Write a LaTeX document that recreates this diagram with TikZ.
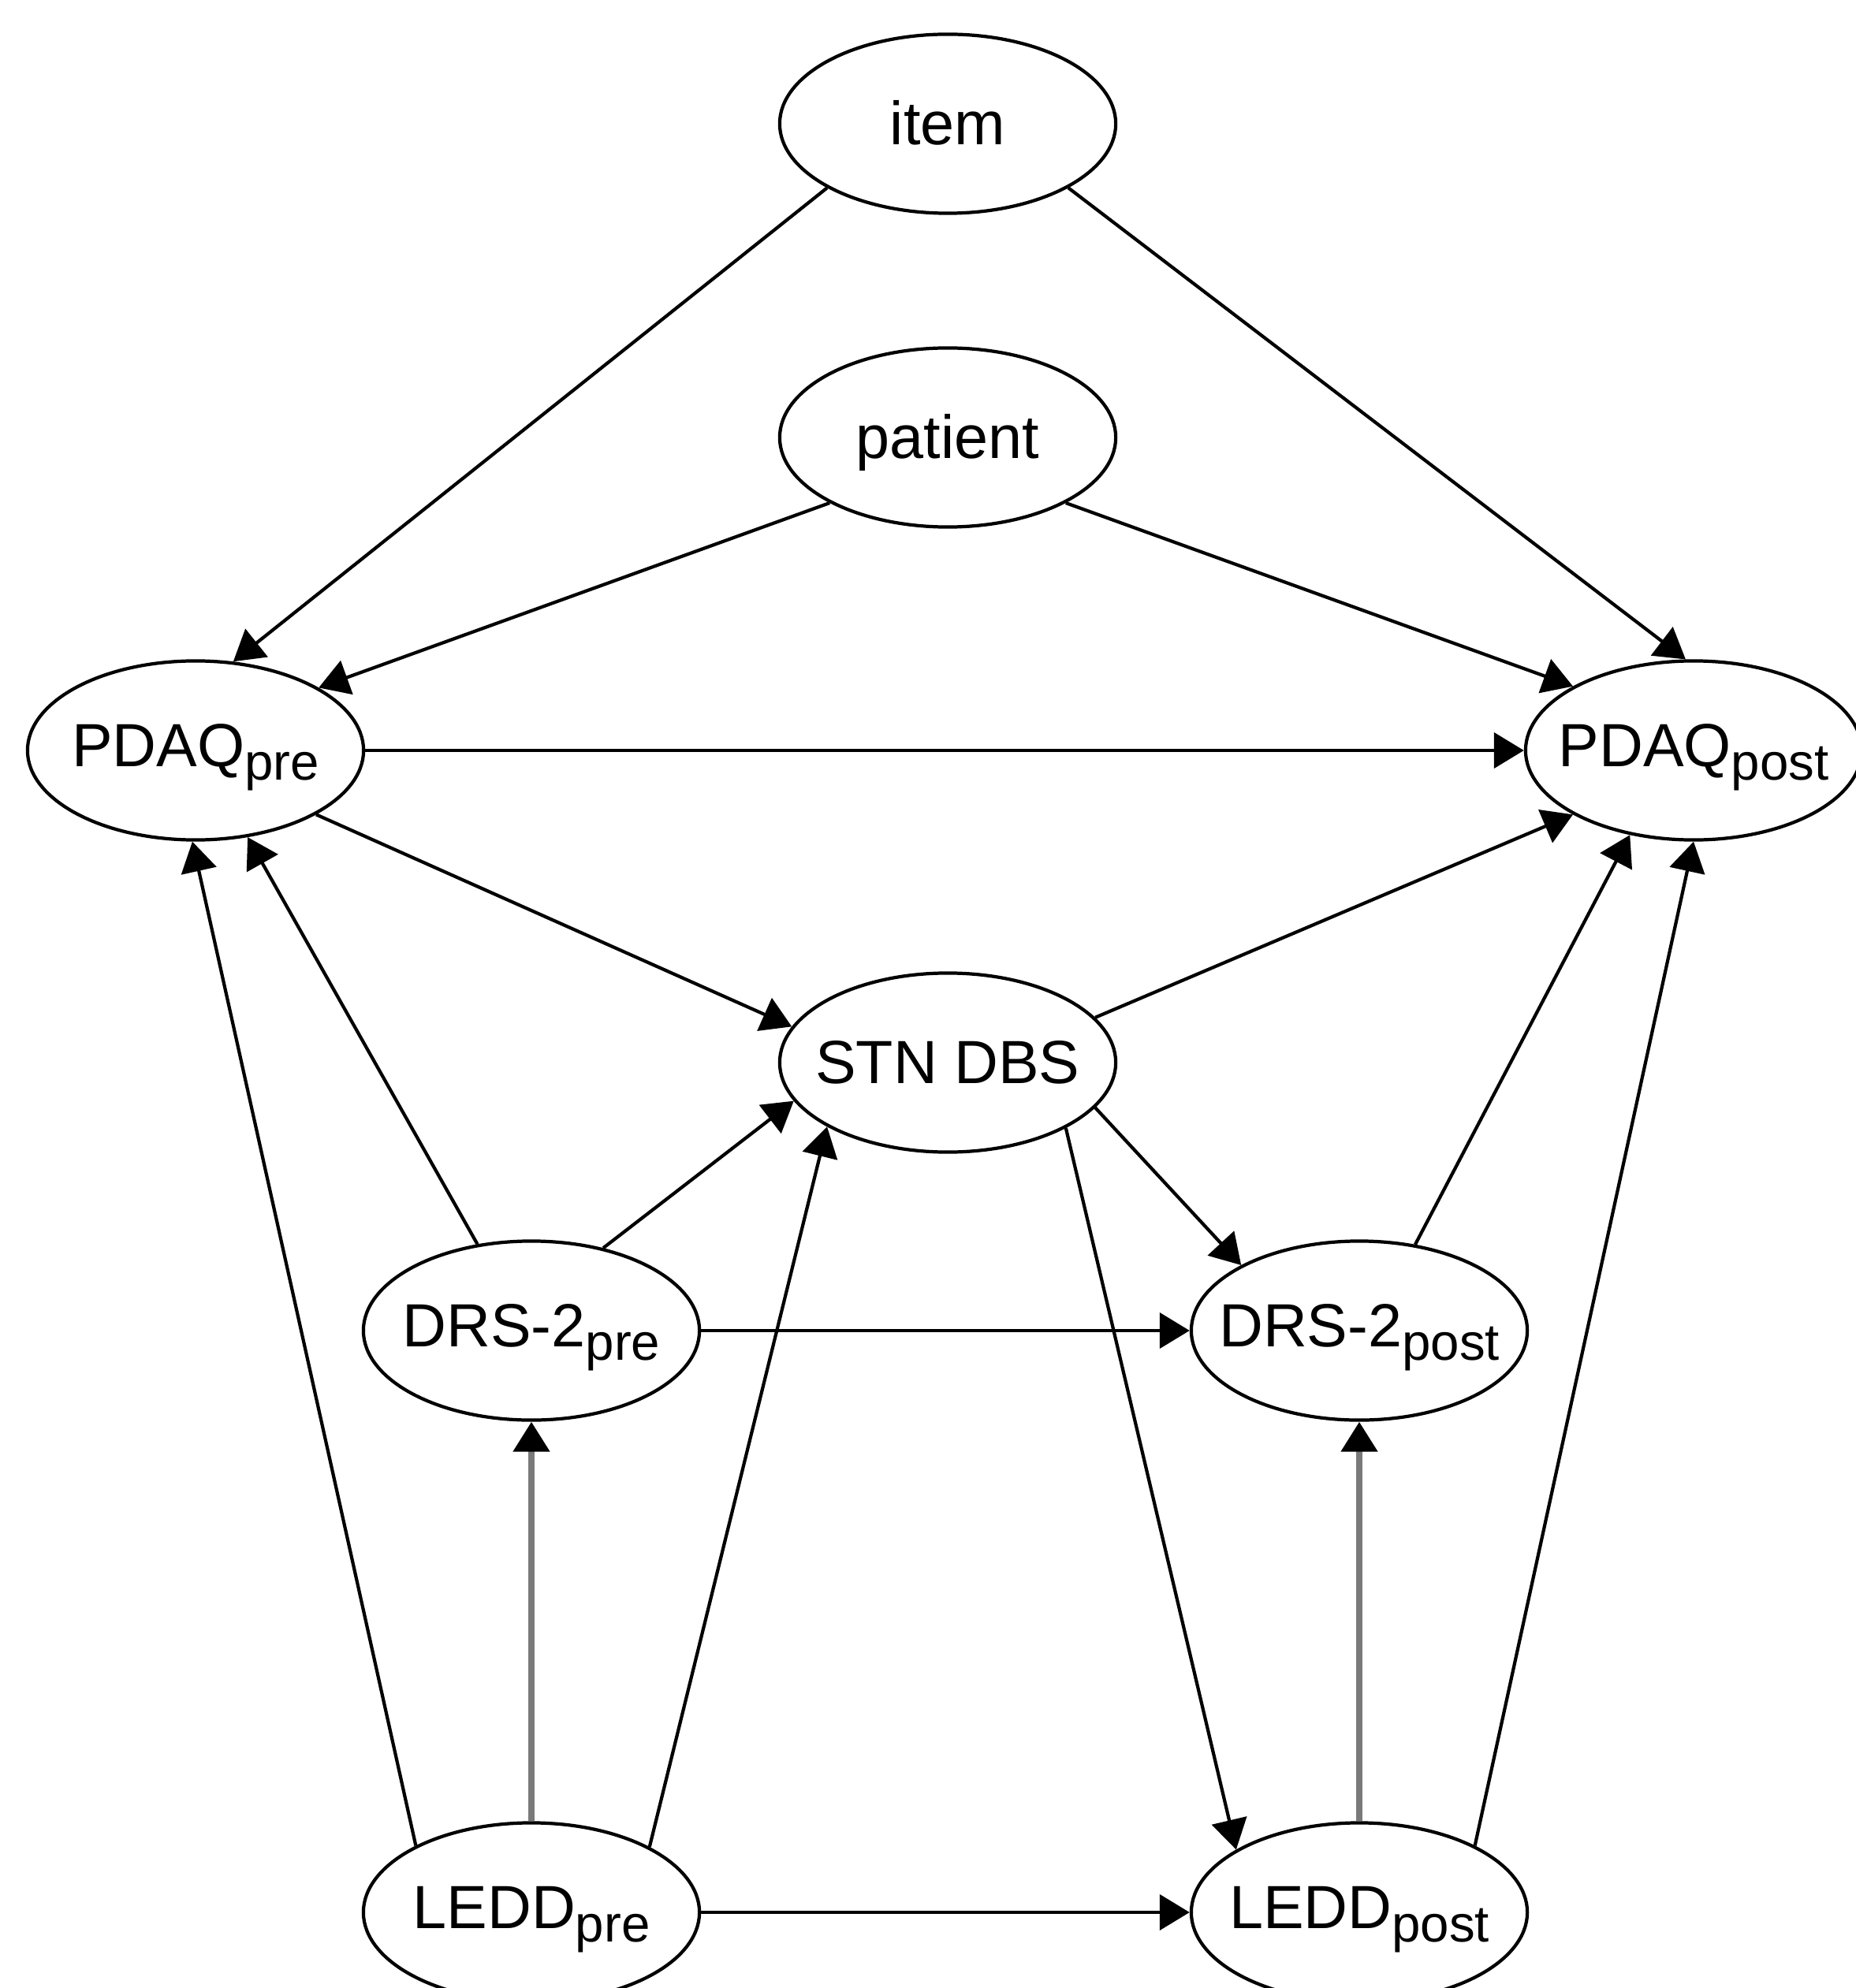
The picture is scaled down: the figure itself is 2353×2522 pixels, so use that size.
\documentclass[tikz,border=0pt]{standalone}
\usepackage{fontspec}
\setmainfont{Liberation Sans}
\usetikzlibrary{arrows.meta,shapes.geometric}
\newcommand{\subtxt}[1]{\raisebox{-0.17cm}{\fontsize{18.6}{20}\selectfont #1}}
\newcommand{\ctrtxt}[1]{\makebox[0pt][c]{#1}}
\begin{document}
\begin{tikzpicture}[x=0.01cm,y=-0.01cm,
  var/.style={ellipse, draw, line width=1.2pt, minimum width=4.26cm, minimum height=2.27cm,
    inner sep=0pt, font=\fontsize{22}{25}\selectfont, text height=0.53cm, text depth=0cm},
  vsub/.style={var, text depth=0.13cm},
  edge/.style={line width=1.2pt, -{Triangle[length=10.8pt,width=12.8pt]}},
  gedge/.style={line width=2.3pt, draw=black!52, -{Triangle[length=10.8pt,width=12.8pt,color=black]}}]
\fill[white] (0,0) rectangle (2353,2522);
\useasboundingbox (0,0) rectangle (2353,2522);

\node[var]  (item)     at (1202,157)  {\ctrtxt{item}};
\node[var]  (patient)  at (1202,555)  {\ctrtxt{patient}};
\node[vsub] (pdaqpre)  at (248,952)   {\ctrtxt{PDAQ\subtxt{pre}}};
\node[vsub] (pdaqpost) at (2148,952)  {\ctrtxt{PDAQ\subtxt{post}}};
\node[var]  (stn)      at (1202,1348) {\ctrtxt{STN DBS}};
\node[vsub] (drspre)   at (674,1688)  {\ctrtxt{DRS-2\subtxt{pre}}};
\node[vsub] (drspost)  at (1724,1688) {\ctrtxt{DRS-2\subtxt{post}}};
\node[vsub] (leddpre)  at (674,2426)  {\ctrtxt{LEDD\subtxt{pre}}};
\node[vsub] (leddpost) at (1724,2426) {\ctrtxt{LEDD\subtxt{post}}};

\draw[edge] (item.208) -- (pdaqpre.67);
\draw[edge] (item.332) -- (pdaqpost.95);
\draw[edge] (patient.209) -- (pdaqpre.27);
\draw[edge] (patient.331) -- (pdaqpost.152);
\draw[edge] (pdaqpre.east) -- (pdaqpost.west);
\draw[edge] (pdaqpre.332) -- (stn.167);
\draw[edge] (stn.17) -- (pdaqpost.208);
\draw[edge] (drspre.122) -- (pdaqpre.301);
\draw[edge] (leddpre.150) -- (pdaqpre.268);
\draw[edge] (drspre.49) -- (stn.194);
\draw[edge] (leddpre.29) -- (stn.208);
\draw[edge] (drspre.east) -- (drspost.west);
\draw[gedge] (leddpre.north) -- (drspre.south);
\draw[edge] (leddpre.east) -- (leddpost.west);
\draw[edge] (stn.343) -- (drspost.151);
\draw[edge] (stn.331) -- (leddpost.153);
\draw[edge] (drspost.57) -- (pdaqpost.233);
\draw[edge] (leddpost.30) -- (pdaqpost.270);
\draw[gedge] (leddpost.north) -- (drspost.south);
\end{tikzpicture}
\end{document}
